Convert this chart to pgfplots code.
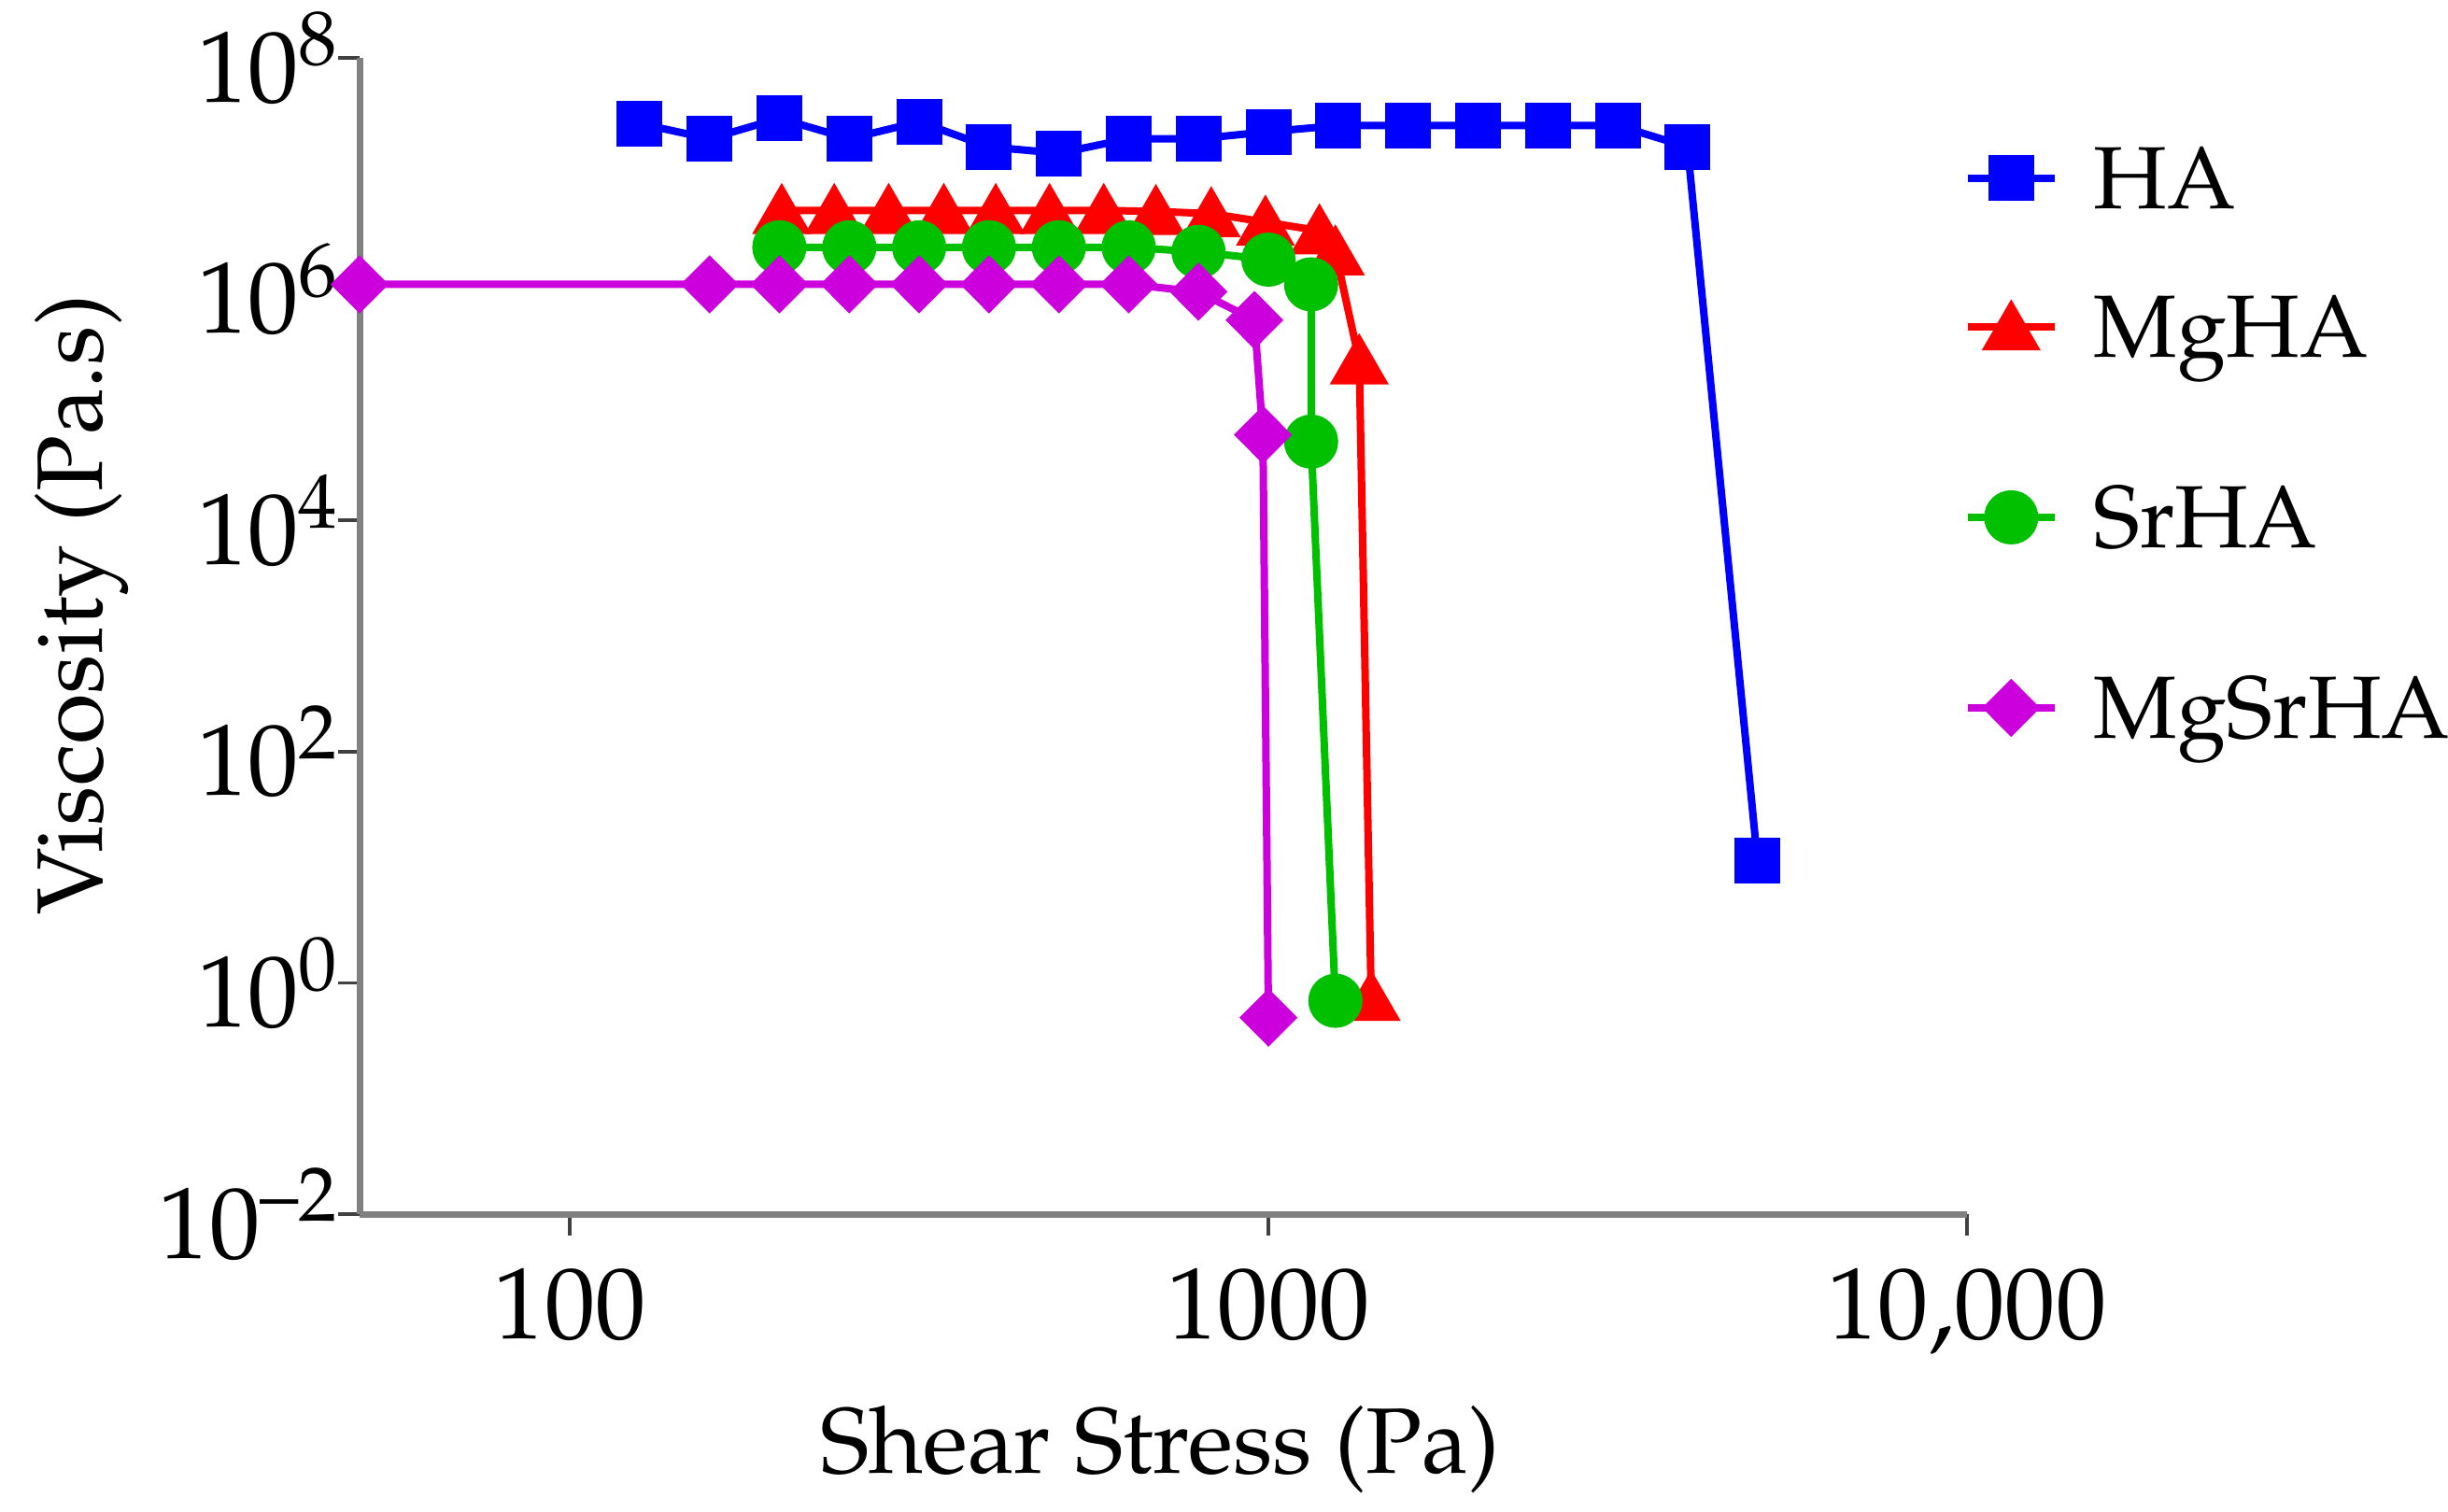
\documentclass[border=0pt]{standalone}
\usepackage[T1]{fontenc}
\usepackage{amsmath}
\usepackage{mathpazo}
\usepackage{pgfplots}
\pgfplotsset{compat=1.18}
\definecolor{cHA}{RGB}{0,0,255}
\definecolor{cMg}{RGB}{255,0,0}
\definecolor{cSr}{RGB}{0,192,0}
\definecolor{cMS}{RGB}{204,0,221}
\begin{document}
\begin{tikzpicture}
\useasboundingbox (0bp,0bp) rectangle (262.1bp,161.9bp);
\begin{axis}[
  at={(38.5bp,31.9bp)}, anchor=south west,
  scale only axis, width=172.1bp, height=123.8bp,
  xmode=log, ymode=log,
  xmin=50, xmax=10000, ymin=1e-2, ymax=1e8,
  axis lines*=left,
  axis line style={draw=black!50, line width=0.7bp},
  tick pos=left,
  xminorticks=false, yminorticks=false,
  xtick={100,1000,10000}, xticklabels={100,1000,{10,000}},
  ytick={1e-2,1,1e2,1e4,1e6,1e8},
  yticklabels={$10^{\text{--}2}$,$10^{0}$,$10^{2}$,$10^{4}$,$10^{6}$,$10^{8}$},
  tick align=outside, major tick length=2.3bp,
  tick style={black!75, line width=0.35bp},
  tick label style={font=\fontsize{10.9}{12}\selectfont},
  yticklabel style={xshift=3.9bp},
  label style={font=\fontsize{10.8}{12}\selectfont},
  xlabel={Shear Stress (Pa)}, ylabel={Viscosity (Pa.s)},
  every axis x label/.style={at={(axis description cs:0.498,-0.224)}, anchor=base},
  every axis y label/.style={at={(axis description cs:-0.160,0.527)}, rotate=90, anchor=base},
  clip=false,
  legend style={at={(axis description cs:0.997,0.9435)}, anchor=north west,
    draw=none, fill=none, inner sep=0pt, row sep=0pt, column sep=3.8bp,
    nodes={inner sep=0pt}, cells={anchor=west},
    font=\fontsize{9.5}{11}\selectfont},
  legend image code/.code={\draw[mark repeat=2,mark phase=2,#1] plot coordinates {(0bp,0bp) (4.65bp,0bp) (9.3bp,0bp)};},
]
\addplot[color=cHA, line width=0.8bp, mark=square*, mark size=2.05bp, mark options={solid}] coordinates {
(125.9,2.7e7) (158.5,2.0e7) (199.5,3.0e7) (251.2,2.0e7) (316.2,2.8e7)
(398.1,1.7e7) (501.2,1.5e7) (631.0,2.0e7) (794.3,2.0e7) (1000,2.3e7)
(1258.9,2.6e7) (1584.9,2.6e7) (1995.3,2.6e7) (2511.9,2.6e7) (3162.3,2.6e7)
(3981.1,1.7e7) (5011.9,11.5)
};
\addlegendentry[text height=9.0bp, text depth=2.4bp]{HA}
\addplot[color=cMg, line width=0.8bp, mark=triangle*, mark size=2.85bp, mark options={solid,yshift=-0.7bp}] coordinates {
(201,4.8e6) (239,4.8e6) (286,4.8e6) (343,4.8e6) (407,4.8e6) (486,4.8e6)
(581,4.8e6) (690,4.7e6) (828,4.5e6) (990,3.8e6) (1183,3.2e6) (1247,2.1e6)
(1349,2.4e5) (1403,0.75)
};
\addlegendentry[text height=13.5bp, text depth=6.9bp]{MgHA}
\addplot[color=cSr, line width=0.8bp, mark=*, mark size=2.5bp, mark options={solid}] coordinates {
(199.5,2.3e6) (251.2,2.3e6) (316.2,2.3e6) (398.1,2.3e6) (501.2,2.3e6)
(631.0,2.3e6) (794.3,2.1e6) (1000,1.8e6) (1151,1.1e6) (1151,4.8e4) (1247,0.7)
};
\addlegendentry[text height=13.5bp, text depth=6.9bp]{SrHA}
\addplot[color=cMS, line width=0.8bp, mark=diamond*, mark size=2.55bp, mark options={solid,xscale=1.33}] coordinates {
(50,1.1e6) (158.5,1.1e6) (199.5,1.1e6) (251.2,1.1e6) (316.2,1.1e6)
(398.1,1.1e6) (501.2,1.1e6) (631.0,1.1e6) (794.3,0.95e6) (955,5.4e5)
(982,5.5e4) (1000,0.5)
};
\addlegendentry[text height=13.5bp, text depth=6.9bp]{MgSrHA}
\end{axis}
\end{tikzpicture}
\end{document}
